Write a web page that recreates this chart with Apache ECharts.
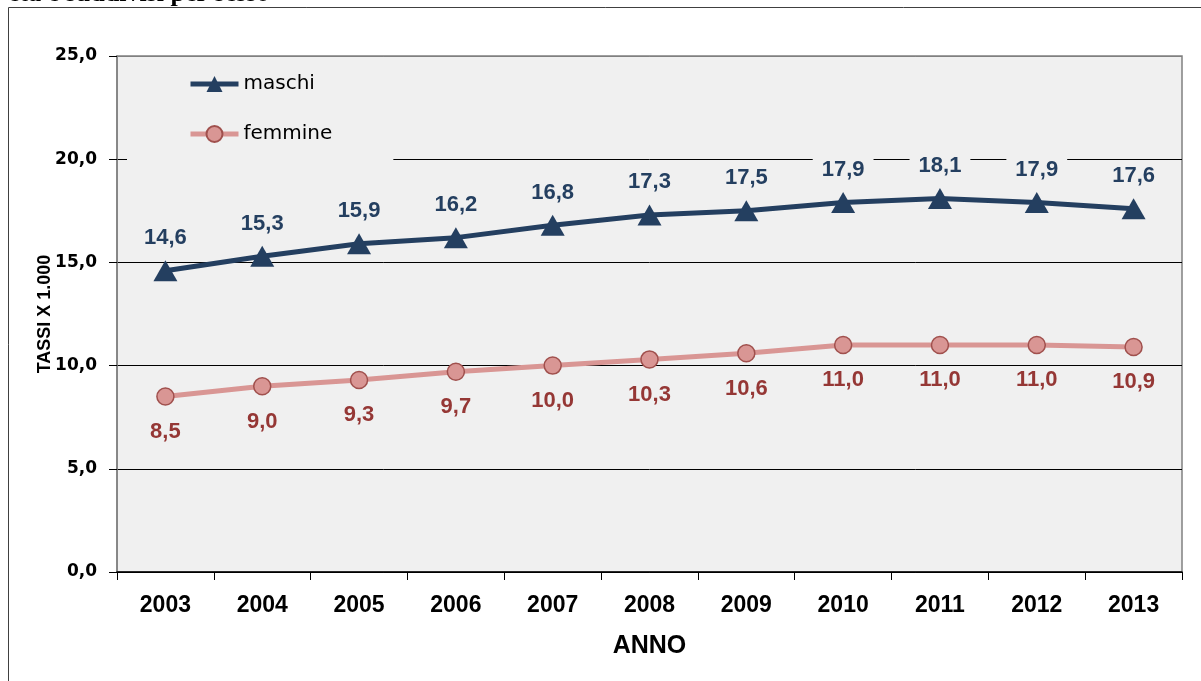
<!DOCTYPE html>
<html>
<head>
<meta charset="utf-8">
<script src="https://cdn.jsdelivr.net/npm/echarts@6/dist/echarts.min.js"></script>
<style>
    html, body { margin: 0; padding: 0; background: #fff; }
    #chart { width: 1201px; height: 681px; }
</style>
</head>
<body>
<div id="chart"></div>
<script>
var anni = ['2003', '2004', '2005', '2006', '2007', '2008', '2009', '2010', '2011', '2012', '2013'];
var maschi = [14.6, 15.3, 15.9, 16.2, 16.8, 17.3, 17.5, 17.9, 18.1, 17.9, 17.6];
var femmine = [8.5, 9.0, 9.3, 9.7, 10.0, 10.3, 10.6, 11.0, 11.0, 11.0, 10.9];
var yTicks = [0, 5, 10, 15, 20, 25];

var BLU = '#243f60';
var ROSA = '#d99694';
var ROSSO = '#953735';

function virgola(v) {
    return Number(v).toFixed(1).replace('.', ',');
}

var chart = echarts.init(document.getElementById('chart'));

var option = {
    backgroundColor: '#fff',
    animation: false,
    graphic: [
        {
            type: 'rect',
            shape: { x: 8.5, y: 7.5, width: 1300, height: 800 },
            style: { fill: 'none', stroke: '#404040', lineWidth: 1 },
            z: -10
        },
        {
            type: 'text',
            left: 8,
            top: -19,
            style: {
                text: 'età e suddivisi per sesso',
                font: 'bold 26px "Liberation Serif"',
                fill: '#000'
            }
        }
    ],
    grid: {
        left: 117,
        top: 56,
        right: 19,
        bottom: 109,
        show: true,
        backgroundColor: '#f0f0f0',
        borderColor: '#808080',
        borderWidth: 1.5
    },
    legend: {
        orient: 'vertical',
        left: 127,
        top: 60,
        padding: [14, 61, 19, 61],
        backgroundColor: '#f0f0f0',
        itemWidth: 48,
        itemHeight: 20,
        itemGap: 30,
        lineStyle: { width: 5 },
        textStyle: { fontFamily: 'DejaVu Sans', fontSize: 20, lineHeight: 20, color: '#000' },
        data: ['maschi', 'femmine']
    },
    xAxis: {
        type: 'category',
        data: anni,
        boundaryGap: true,
        name: 'ANNO',
        nameLocation: 'middle',
        nameGap: 62,
        nameTextStyle: { fontFamily: 'Liberation Sans', fontWeight: 'bold', fontSize: 25, color: '#000' },
        axisLine: { lineStyle: { color: '#000', width: 1.5 } },
        axisTick: { show: true, length: 8, lineStyle: { color: '#000' } },
        axisLabel: {
            margin: 22,
            fontFamily: 'Liberation Sans',
            fontWeight: 'bold',
            fontSize: 23,
            color: '#000'
        }
    },
    yAxis: {
        type: 'value',
        min: yTicks[0],
        max: yTicks[yTicks.length - 1],
        interval: 5,
        name: 'TASSI X 1.000',
        nameLocation: 'middle',
        nameGap: 63,
        nameMoveOverlap: false,
        nameTextStyle: { fontFamily: 'Liberation Sans', fontWeight: 'bold', fontSize: 18, color: '#000' },
        axisLine: { show: true, lineStyle: { color: '#808080', width: 1.5 } },
        axisTick: { show: true, length: 8, lineStyle: { color: '#000' } },
        axisLabel: {
            margin: 20,
            fontFamily: 'DejaVu Sans',
            fontWeight: 'bold',
            fontSize: 17,
            color: '#000',
            formatter: function (v) { return virgola(v); }
        },
        splitLine: {
            show: true,
            lineStyle: { color: ['#000', '#000', '#000', '#000', '#000', '#808080'], width: 1 }
        }
    },
    series: [
        {
            name: 'maschi',
            type: 'line',
            data: maschi,
            symbol: 'triangle',
            symbolSize: [24, 21],
            lineStyle: { color: BLU, width: 5 },
            itemStyle: { color: BLU },
            label: {
                show: true,
                position: 'top',
                distance: 11,
                fontFamily: 'Liberation Sans',
                fontWeight: 'bold',
                fontSize: 22,
                color: BLU,
                backgroundColor: '#f0f0f0',
                padding: [0, 9],
                formatter: function (p) { return virgola(p.value); }
            },
            z: 3
        },
        {
            name: 'femmine',
            type: 'line',
            data: femmine,
            symbol: 'circle',
            symbolSize: 17,
            lineStyle: { color: ROSA, width: 5 },
            itemStyle: { color: ROSA, borderColor: '#a0504d', borderWidth: 1.5 },
            label: {
                show: true,
                position: 'bottom',
                distance: 15,
                fontFamily: 'Liberation Sans',
                fontWeight: 'bold',
                fontSize: 22,
                color: ROSSO,
                formatter: function (p) { return virgola(p.value); }
            },
            z: 3
        }
    ]
};

chart.setOption(option);
</script>
</body>
</html>
